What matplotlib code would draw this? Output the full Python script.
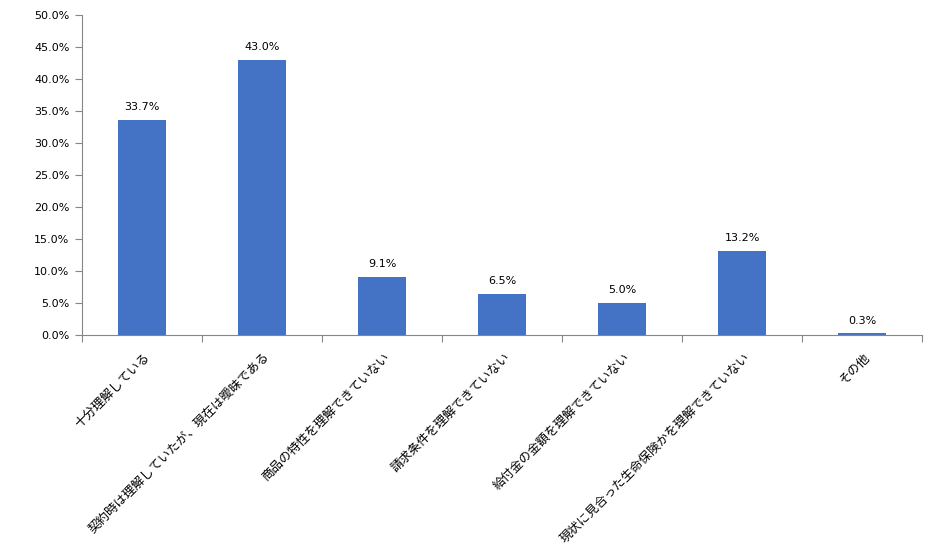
import matplotlib
matplotlib.use('Agg')
import matplotlib.pyplot as plt
import numpy as np
from matplotlib.ticker import MultipleLocator, FuncFormatter

plt.rcParams['font.family'] = ['Noto Sans CJK JP', 'DejaVu Sans']

categories = [
    '十分理解している',
    '契約時は理解していたが、現在は曖昧である',
    '商品の特性を理解できていない',
    '請求条件を理解できていない',
    '給付金の金額を理解できていない',
    '現状に見合った生命保険かを理解できていない',
    'その他',
]
values = [33.7, 43.0, 9.1, 6.5, 5.0, 13.2, 0.3]

bar_color = '#4472C4'
axis_color = '#868686'


def main():
    fig = plt.figure(figsize=(9.4, 5.44), dpi=100)
    ax = fig.add_axes([0.0872, 0.384, 0.894, 0.588])

    x = np.arange(len(categories))
    ax.bar(x, values, width=0.4, color=bar_color, zorder=2)

    for xi, v in zip(x, values):
        ax.text(xi, v + 1.2, f'{v:.1f}%', ha='center', va='bottom',
                fontsize=8, family=['DejaVu Sans'], color='#000000')

    ax.set_xlim(-0.5, len(categories) - 0.5)
    ax.set_ylim(0, 50)
    ax.yaxis.set_major_locator(MultipleLocator(5))
    ax.yaxis.set_major_formatter(FuncFormatter(lambda v, p: f'{v:.1f}%'))

    # category boundary ticks, Excel style
    ax.set_xticks(np.arange(-0.5, len(categories), 1.0))
    ax.set_xticklabels([])
    ax.tick_params(axis='x', length=5, color=axis_color, direction='out')
    ax.tick_params(axis='y', length=5, color=axis_color, direction='out',
                   labelsize=8, pad=4)
    for lbl in ax.get_yticklabels():
        lbl.set_family(['DejaVu Sans'])

    for xi, name in zip(x, categories):
        ax.annotate(name, xy=(xi, 0), xycoords=('data', 'axes fraction'),
                    xytext=(1, -11), textcoords='offset points',
                    rotation=45, ha='right', va='top', rotation_mode='anchor',
                    fontsize=9, color='#000000')

    for side in ['top', 'right']:
        ax.spines[side].set_visible(False)
    ax.spines['left'].set_color(axis_color)
    ax.spines['bottom'].set_color(axis_color)

    plt.savefig('out.png', dpi=100)


if __name__ == '__main__':
    main()
